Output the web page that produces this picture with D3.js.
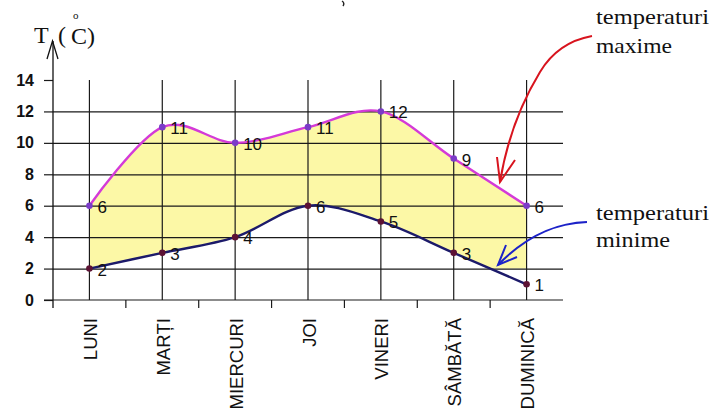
<!DOCTYPE html>
<html><head><meta charset="utf-8">
<script src="https://cdn.jsdelivr.net/npm/d3@7/dist/d3.min.js"></script>
<style>
body{margin:0;background:#fff;}
svg{display:block;}
</style></head>
<body>
<svg id="c" width="709" height="415"></svg>
<script>
const days = ["LUNI","MARȚI","MIERCURI","JOI","VINERI","SÂMBĂTĂ","DUMINICĂ"];
const maxTemps = [6,11,10,11,12,9,6];
const minTemps = [2,3,4,6,5,3,1];
const yTicks = [0,2,4,6,8,10,12,14];
const gridTicks = [2,4,6,8,10,12];

const svg = d3.select("#c");
const x = d3.scalePoint().domain(days).range([53,563]).padding(0.5);
const y = d3.scaleLinear().domain([0,14]).range([300,80]);
const step = x.step();

const curve = d3.curveCatmullRom.alpha(0);

// clip for fill (yellow stops at level 2)
svg.append("defs").append("clipPath").attr("id","clipFill")
  .append("rect").attr("x",0).attr("y",0).attr("width",709).attr("height",y(2));

const rows = days.map((d,i)=>({d, hi:maxTemps[i], lo:minTemps[i]}));

// fill
svg.append("path").datum(rows)
  .attr("clip-path","url(#clipFill)")
  .attr("fill","#fcf8a6")
  .attr("d", d3.area().curve(curve).x(r=>x(r.d)).y0(r=>y(r.lo)).y1(r=>y(r.hi)));

// horizontal grid
const grid = svg.append("g").attr("transform","translate(53,0)")
  .call(d3.axisLeft(y).tickValues(gridTicks).tickSize(-510).tickFormat(""));
grid.select(".domain").remove();
grid.selectAll("line").attr("stroke","#1a1a1a").attr("stroke-width",1.2);

// vertical grid at categories
svg.append("g").selectAll("line").data(days).join("line")
  .attr("x1",d=>x(d)).attr("x2",d=>x(d))
  .attr("y1",y(14)).attr("y2",y(0))
  .attr("stroke","#1a1a1a").attr("stroke-width",1.2);

// y axis ticks + labels
const ya = svg.append("g").attr("transform","translate(53,0)")
  .call(d3.axisLeft(y).tickValues(yTicks).tickSize(9).tickPadding(10));
ya.select(".domain").remove();
ya.selectAll("line").attr("stroke","#1a1a1a").attr("stroke-width",1.2);
ya.selectAll("text").attr("font-family","Liberation Sans, Arial, sans-serif")
  .attr("font-size",16).attr("font-weight","bold").attr("fill","#111");

// y axis line with arrow
svg.append("line").attr("x1",53).attr("x2",53).attr("y1",308).attr("y2",41)
  .attr("stroke","#111").attr("stroke-width",1.3);
svg.append("path").attr("d","M47,59 L52.5,41 L58,59").attr("fill","none")
  .attr("stroke","#111").attr("stroke-width",1.3);

// x axis
svg.append("line").attr("x1",44).attr("x2",563).attr("y1",y(0)).attr("y2",y(0))
  .attr("stroke","#1a1a1a").attr("stroke-width",1.2);
svg.append("g").selectAll("line").data(days.slice(1)).join("line")
  .attr("x1",d=>x(d)-step/2).attr("x2",d=>x(d)-step/2)
  .attr("y1",y(0)).attr("y2",y(0)+8)
  .attr("stroke","#1a1a1a").attr("stroke-width",1.2);

const xa = svg.append("g").attr("transform",`translate(0,${y(0)})`)
  .call(d3.axisBottom(x).tickSize(0).tickFormat(d=>d));
xa.select(".domain").remove();
xa.selectAll("text")
  .attr("font-family","Liberation Sans, Arial, sans-serif")
  .attr("font-size",18.5).attr("fill","#111")
  .attr("text-anchor","end")
  .attr("dy",null).attr("y",null)
  .attr("transform","translate(7,18) rotate(-90)");

// lines
svg.append("path").datum(rows).attr("fill","none")
  .attr("stroke","#d43ad8").attr("stroke-width",2.4)
  .attr("d", d3.line().curve(curve).x(r=>x(r.d)).y(r=>y(r.hi)));
svg.append("path").datum(rows).attr("fill","none")
  .attr("stroke","#1c1a6a").attr("stroke-width",2.4)
  .attr("d", d3.line().curve(curve).x(r=>x(r.d)).y(r=>y(r.lo)));

// markers
svg.append("g").selectAll("circle").data(rows).join("circle")
  .attr("cx",r=>x(r.d)).attr("cy",r=>y(r.hi)).attr("r",3.3).attr("fill","#7b3cc8");
svg.append("g").selectAll("circle").data(rows).join("circle")
  .attr("cx",r=>x(r.d)).attr("cy",r=>y(r.lo)).attr("r",3.3).attr("fill","#5c1234");

// value labels
const lbl = (key)=> svg.append("g").selectAll("text").data(rows).join("text")
  .attr("x",r=>x(r.d)+8).attr("y",r=>y(r[key])+7)
  .attr("font-family","Liberation Sans, Arial, sans-serif")
  .attr("font-size",17).attr("fill","#111")
  .text(r=>r[key]);
lbl("hi"); lbl("lo");

// axis title
const serif = "Liberation Serif, Times New Roman, serif";
svg.append("text").attr("x",34).attr("y",43).attr("font-family",serif)
  .attr("font-size",24).attr("fill","#111").text("T");
svg.append("text").attr("x",58).attr("y",43).attr("font-family",serif)
  .attr("font-size",24).attr("fill","#111").text("(");
svg.append("text").attr("x",73).attr("y",19).attr("font-family",serif)
  .attr("font-size",11).attr("fill","#111").text("o");
svg.append("text").attr("x",71).attr("y",44).attr("font-family",serif)
  .attr("font-size",24).attr("fill","#111").text("C)");

// small cut-off mark at top (fragment of a cropped letter)
svg.append("path").attr("d","M342,1 Q345,3 343,6")
  .attr("fill","none").attr("stroke","#222").attr("stroke-width",1.4);

// annotations
const ann = [
  {t:"temperaturi", y:24, w:113},
  {t:"maxime", y:53, w:76},
  {t:"temperaturi", y:220, w:113},
  {t:"minime", y:247, w:74}
];
svg.append("g").selectAll("text").data(ann).join("text")
  .attr("x",596).attr("y",a=>a.y).attr("font-family",serif)
  .attr("font-size",21).attr("fill","#111")
  .attr("textLength",a=>a.w).attr("lengthAdjust","spacingAndGlyphs")
  .text(a=>a.t);

// red arrow
svg.append("path").attr("d","M592,36 C570,40 552,52 540,72 C520,105 506,145 500,182")
  .attr("fill","none").attr("stroke","#d8141e").attr("stroke-width",2);
svg.append("path").attr("d","M497,157 L500,182 L515,160")
  .attr("fill","none").attr("stroke","#d8141e").attr("stroke-width",2);
// blue arrow
svg.append("path").attr("d","M587,222 C560,223 530,232 498,265")
  .attr("fill","none").attr("stroke","#1c22c8").attr("stroke-width",2);
svg.append("path").attr("d","M506,245 L498,265 L517,257")
  .attr("fill","none").attr("stroke","#1c22c8").attr("stroke-width",2);
</script>
</body></html>
